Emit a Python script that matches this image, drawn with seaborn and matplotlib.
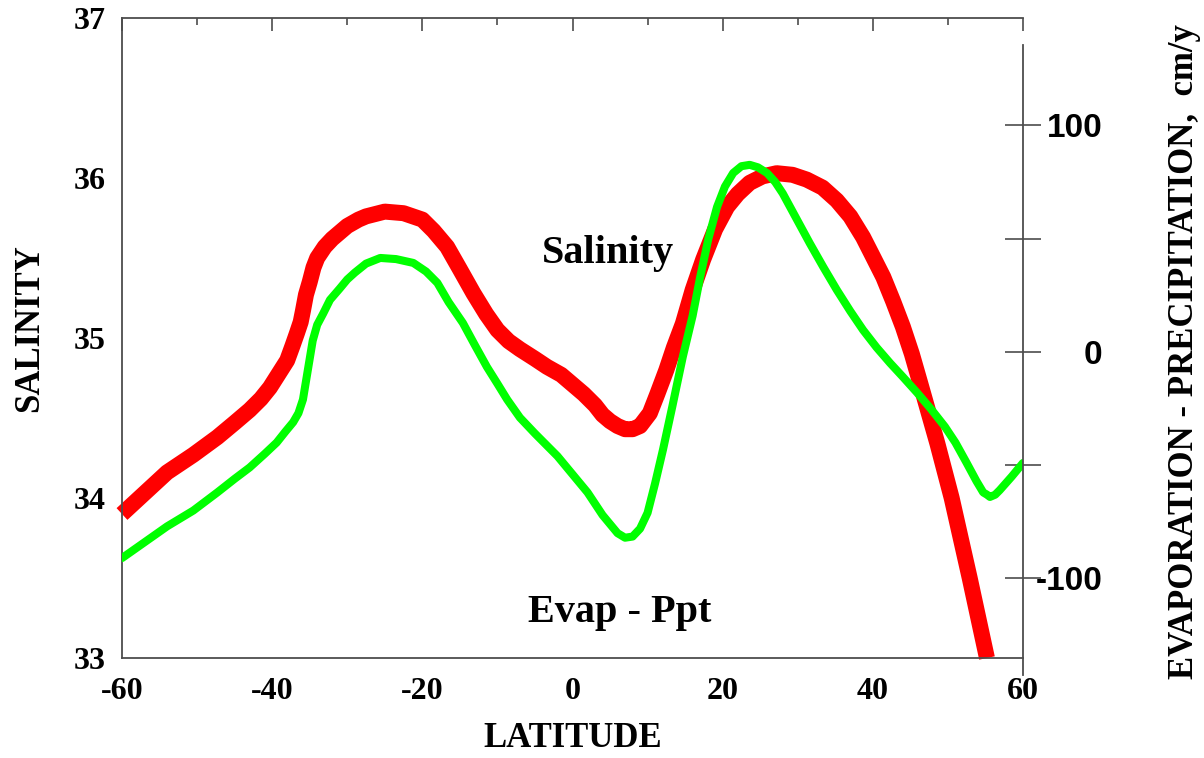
import numpy as np
import pandas as pd
import matplotlib
matplotlib.use("Agg")
import matplotlib.pyplot as plt
import seaborn as sns
from matplotlib.ticker import MultipleLocator

#style
sns.set_theme(style="white")
plt.rcParams['font.family'] = ['Liberation Serif', 'DejaVu Serif']
plt.rcParams['font.weight'] = 'bold'
plt.rcParams['axes.unicode_minus'] = False

#salinity vs latitude (left axis)
sal_lat = [-60, -57, -54, -50.5, -47.3, -45, -43, -41.5, -40.3, -38, -37.3,
           -36.7, -36.2, -35.9, -35.5, -35, -34.5, -34, -33, -32, -31, -30,
           -28.5, -27.5, -25, -22.5, -20, -18.5, -16.7, -15, -13.2, -11.5, -10,
           -8.5, -7, -5, -3.4, -1.5, 0, 1.5, 3, 4, 5, 6, 7, 8, 9, 10.3, 11.3,
           12.5, 13.5, 14.7, 16, 17.4, 19, 20.6, 22, 23.6, 25.3, 27.2, 29.3,
           31.2, 33.3, 35.2, 37, 38.7, 40, 41.4, 42.7, 44, 45.2, 46.3, 48.6,
           50.5, 52.9, 55.2]
sal_val = [33.9, 34.03, 34.16, 34.27, 34.38, 34.47, 34.55, 34.62, 34.69, 34.86,
           34.95, 35.03, 35.1, 35.17, 35.27, 35.35, 35.44, 35.5, 35.57, 35.62,
           35.66, 35.7, 35.74, 35.76, 35.79, 35.78, 35.74, 35.67, 35.57, 35.43,
           35.28, 35.15, 35.05, 34.98, 34.93, 34.87, 34.82, 34.77, 34.71, 34.65,
           34.58, 34.52, 34.48, 34.45, 34.43, 34.43, 34.45, 34.53, 34.65, 34.8,
           34.94, 35.09, 35.3, 35.49, 35.68, 35.82, 35.9, 35.97, 36.01, 36.03,
           36.02, 35.99, 35.94, 35.86, 35.76, 35.63, 35.51, 35.38, 35.23, 35.07,
           34.9, 34.72, 34.34, 34.0, 33.5, 33.0]

#evaporation - precipitation vs latitude (right axis)
ep_lat = [-60, -57, -54, -50.5, -47.3, -45, -43, -41, -39.4, -38.2, -37.2, -36.5,
          -35.9, -35.6, -35.2, -34.6, -34, -33.2, -32.3, -31, -30, -29, -27.5,
          -25.6, -23.5, -21.2, -19.5, -18, -16.5, -14.6, -13, -11.4, -10, -8.7,
          -7, -5, -3.5, -2, -1, 0, 1, 2, 3, 4, 5, 6, 7, 8, 9, 10, 11, 12.06,
          13.3, 14.7, 16, 17, 18.1, 19.25, 20.3, 21.4, 22.5, 23.6, 24.7, 25.9,
          27, 28, 29.8, 31.6, 33.4, 35.2, 37, 38.7, 40.5, 42.3, 44, 45.9, 47.7,
          49.6, 51, 52.5, 53.8, 54.7, 55.2, 55.6, 56.3, 56.9, 58.5, 60]
ep_val = [-91, -84, -77, -70, -62, -56, -51, -45, -40, -35, -31, -27, -21, -15,
          -7, 5, 12, 17, 23, 28, 32, 35, 39, 41.5, 41, 39.3, 35.5, 30.5, 22,
          12.8, 3, -6.6, -14, -21, -29, -36, -41, -46, -50, -54, -58, -62, -67,
          -72, -76, -80, -82, -81.5, -78, -71, -58, -43, -24, -2, 16, 33, 50,
          64, 73, 79, 82, 82.6, 81.5, 79, 75, 70, 59, 48, 37.5, 27.4, 18, 9.7,
          2, -4.9, -11, -18, -25, -33, -40, -49, -57, -62, -63, -64, -63, -61,
          -55, -49]

x_ticks = [-60, -40, -20, 0, 20, 40, 60]
sal_ticks = [33, 34, 35, 36, 37]
ep_ticks = [-100, 0, 100]

sal_df = pd.DataFrame({'lat': sal_lat, 'val': sal_val})
ep_df = pd.DataFrame({'lat': ep_lat, 'val': ep_val})

W, H = 1204, 758
L, R, T, B = 122, 1023, 18, 658
T2, B2 = 45, 675
spine_col = '#4d4d4d'

fig = plt.figure(figsize=(W / 100, H / 100), dpi=100)
ax = fig.add_axes([L / W, 1 - B / H, (R - L) / W, (B - T) / H])
ax2 = fig.add_axes([L / W, 1 - B2 / H, (R - L) / W, (B2 - T2) / H])

#salinity line
sns.lineplot(data=sal_df, x='lat', y='val', ax=ax, color='#ff0000',
             linewidth=11.5, solid_capstyle='butt', solid_joinstyle='round',
             clip_on=False)
ax.set_xlim(-60, 60)
ax.set_ylim(33, 37)
ax.set_xticks(x_ticks)
ax.set_yticks(sal_ticks)
ax.xaxis.set_minor_locator(MultipleLocator(10))
ax.yaxis.set_minor_locator(MultipleLocator(0.5))
ax.tick_params(axis='both', which='both', direction='in', top=True, right=False,
               color=spine_col, width=1.2, labelsize=23, labelcolor='black')
ax.tick_params(axis='both', which='major', length=9.5)
ax.tick_params(axis='both', which='minor', length=5)
ax.tick_params(axis='x', pad=14)
ax.tick_params(axis='y', pad=12)
for s in ['left', 'bottom', 'top']:
    ax.spines[s].set_color(spine_col)
    ax.spines[s].set_linewidth(1.3)
ax.spines['right'].set_visible(False)

ax.set_xlabel('LATITUDE', fontsize=25, fontweight='bold', color='black')
ax.xaxis.set_label_coords(0.5, -0.1)
ax.set_ylabel('SALINITY', fontsize=25, fontweight='bold', color='black')
ax.yaxis.set_label_coords(-0.084, 0.516)

ax.text(4.7, 35.47, 'Salinity', fontsize=29, fontweight='bold', ha='center',
        va='baseline', color='black')
ax.text(6.3, 33.225, 'Evap - Ppt', fontsize=29, fontweight='bold', ha='center',
        va='baseline', color='black')

#E-P line on second axis
ax2.patch.set_visible(False)
sns.lineplot(data=ep_df, x='lat', y='val', ax=ax2, color='#00ff00',
             linewidth=5.8, solid_capstyle='round', solid_joinstyle='round')
ax2.set_xlim(-60, 60)
ax2.set_ylim(-142.6, 135.5)
ax2.set_xticks([])
ax2.set_xlabel('')
for s in ['left', 'bottom', 'top']:
    ax2.spines[s].set_visible(False)
ax2.spines['right'].set_color(spine_col)
ax2.spines['right'].set_linewidth(1.3)
ax2.yaxis.set_ticks_position('right')
ax2.set_yticks(ep_ticks)
ax2.set_yticklabels([str(v) for v in ep_ticks], ha='right',
                    fontfamily=['Liberation Sans', 'DejaVu Sans'],
                    fontweight='bold', fontsize=24, color='black')
ax2.yaxis.set_minor_locator(MultipleLocator(50))
ax2.tick_params(axis='y', which='both', direction='inout', length=26,
                width=1.2, color=spine_col, pad=44)
ax2.yaxis.set_label_position('right')
ax2.set_ylabel('EVAPORATION - PRECIPITATION,  cm/y', fontsize=25,
               fontweight='bold', color='black')
ax2.yaxis.set_label_coords(1.161, 0.513)

fig.savefig('out.png', dpi=100, facecolor='white')
